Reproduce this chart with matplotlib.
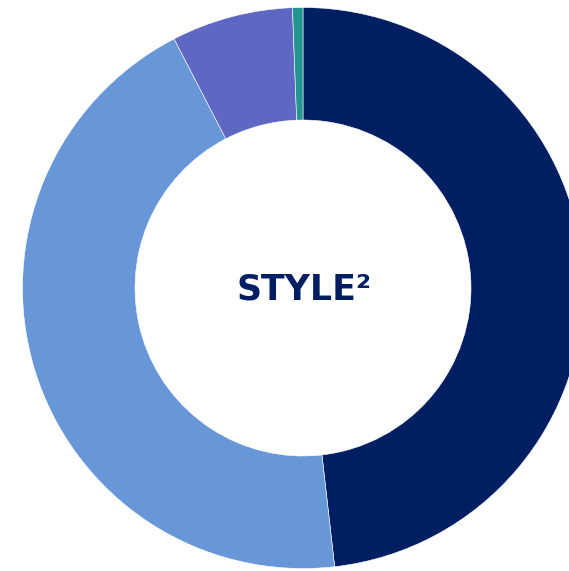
import matplotlib
matplotlib.use("Agg")
import matplotlib.pyplot as plt

# Donut chart data
labels = ["Navy", "Light blue", "Purple", "Teal"]
shares = [48.2, 44.2, 7.0, 0.6]
colors = ["#001E62", "#6897D8", "#5E67C1", "#22968F"]

fig = plt.figure(figsize=(5.69, 5.71), dpi=100)
ax = fig.add_axes([0, 0, 1, 1])

# axis units are pixels, centre of the ring at (303, 288) from top-left
ax.pie(
    shares,
    colors=colors,
    startangle=90,
    counterclock=False,
    radius=280.5,
    wedgeprops=dict(width=112.5, edgecolor="white", linewidth=0.4),
)

ax.text(
    1, -2, "STYLE²",
    ha="center", va="center",
    fontsize=25, fontweight="bold",
    color="#001E62", family="DejaVu Sans",
)

ax.set_xlim(-303, 569 - 303)
ax.set_ylim(-(571 - 288), 288)
ax.set_aspect("equal")
ax.axis("off")

fig.savefig("out.png", dpi=100)
